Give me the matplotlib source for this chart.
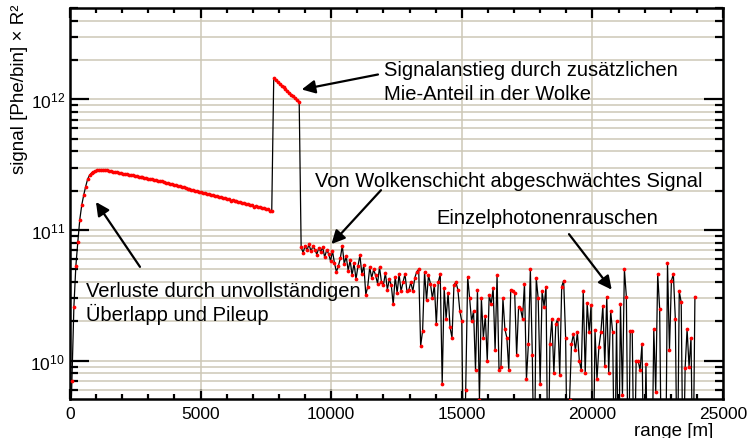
import numpy as np
import matplotlib
matplotlib.use("Agg")
import matplotlib.pyplot as plt
from matplotlib.ticker import MultipleLocator, LogLocator, NullFormatter

plt.rcParams['font.family'] = ['Liberation Sans', 'DejaVu Sans']
plt.rcParams['mathtext.fontset'] = 'custom'
plt.rcParams['mathtext.rm'] = 'Liberation Sans'
plt.rcParams['mathtext.it'] = 'Liberation Sans:italic'
plt.rcParams['mathtext.bf'] = 'Liberation Sans:bold'

# range bins are 75 m wide, signal in units of 1e10 Phe/bin * R^2
bin_width = 75.0

# 0 - 7725 m: overlap rise and clear-air decay
signal_clear = [
    0.2, 0.7, 2.6, 5.3, 8.1, 12.0, 15.5, 18.5, 21.5, 24.5,
    26.3, 27.3, 27.9, 28.3, 28.6, 28.8, 28.9, 28.9, 28.9, 28.7,
    28.4, 28.2, 28.0, 27.8, 27.6, 27.4, 27.2, 27.0, 26.9, 26.7,
    26.5, 26.4, 26.2, 26.0, 25.8, 25.6, 25.5, 25.3, 25.1, 24.9,
    24.8, 24.6, 24.4, 24.3, 24.1, 23.9, 23.8, 23.6, 23.3, 23.1,
    22.9, 22.6, 22.4, 22.2, 22.0, 21.8, 21.6, 21.4, 21.2, 21.0,
    20.8, 20.7, 20.4, 20.2, 20.0, 19.9, 19.7, 19.5, 19.3, 19.2,
    19.0, 18.8, 18.7, 18.6, 18.3, 18.2, 18.0, 17.9, 17.6, 17.6,
    17.3, 17.3, 16.8, 17.0, 16.7, 16.7, 16.3, 16.4, 16.1, 16.1,
    15.7, 15.8, 15.5, 15.5, 15.1, 15.3, 14.9, 15.0, 14.7, 14.7,
    14.4, 14.4, 14.1, 14.1,
]

# 7800 - 8775 m: cloud layer
signal_cloud = [
    144.5, 140.0, 135.8, 131.5, 127.4, 123.6, 119.7, 115.9, 112.4, 108.9,
    105.4, 102.3, 99.1, 96.0,
]

# 8850 m onwards: attenuated signal above the cloud, single-photon noise
signal_noise = [
    7.4, 6.7, 7.6, 7.0, 7.8, 6.9, 7.5, 7.1, 6.5, 7.3,
    6.8, 7.4, 6.2, 7.0, 6.6, 5.8, 6.9, 5.6, 4.8, 5.3,
    6.1, 7.6, 5.5, 6.3, 4.9, 5.9, 4.5, 5.6, 4.2, 5.3,
    6.4, 4.6, 5.4, 3.2, 3.7, 5.2, 4.3, 5.0, 4.5, 3.9,
    5.2, 4.0, 3.8, 4.7, 3.5, 4.2, 3.8, 2.7, 4.4, 3.3,
    4.6, 3.4, 4.0, 4.6, 3.4, 3.5, 4.0, 3.4, 4.3, 4.8,
    5.0, 1.3, 1.7, 4.8, 2.9, 4.5, 3.9, 3.0, 3.8, 1.9,
    4.0, 4.6, 0.67, 3.6, 2.1, 3.3, 1.8, 1.5, 3.8, 4.0,
    3.5, 2.4, 2.0, 0.1, 0.6, 4.4, 3.0, 2.0, 2.4, 0.85,
    3.5, 0.5, 3.0, 1.5, 2.2, 1.0, 3.2, 2.7, 3.6, 1.2,
    4.5, 0.85, 0.9, 3.0, 1.75, 1.5, 0.85, 3.5, 3.4, 3.3,
    1.1, 2.6, 2.5, 2.1, 3.9, 0.72, 1.35, 5.0, 1.1, 0.1,
    4.3, 3.0, 0.67, 3.4, 2.6, 3.7, 0.1, 1.35, 2.1, 0.8,
    1.9, 2.1, 0.78, 3.7, 4.1, 1.5, 0.1, 0.5, 1.35, 1.6,
    1.2, 1.65, 1.0, 0.85, 3.4, 0.8, 2.77, 1.65, 2.67, 0.1,
    1.72, 0.72, 1.28, 1.65, 2.63, 0.92, 3.08, 0.81, 2.4, 1.65,
    0.1, 2.0, 0.1, 2.7, 0.55, 5.0, 3.1, 0.1, 1.7, 1.68,
    0.1, 1.0, 1.0, 0.85, 1.35, 0.1, 0.95, 0.1, 0.1, 0.1,
    1.75, 0.58, 4.6, 2.5, 0.1, 0.1, 0.1, 5.6, 1.2, 4.1,
    4.6, 2.1, 0.1, 3.4, 2.8, 0.1, 0.88, 1.75, 0.9, 1.5,
    0.1, 3.1,
]

signal = np.array(signal_clear + signal_cloud + signal_noise) * 1e10
range_m = np.arange(len(signal)) * bin_width

grid_color = '#cdc8b6'

fig = plt.figure(figsize=(7.5, 4.39), dpi=100)
ax = fig.add_axes([0.0933, 0.0888, 0.8707, 0.8907])

ax.plot(range_m, signal, '-', color='black', lw=0.9,
        marker='o', ms=2.7, mfc='red', mec='red', mew=0, zorder=3)

ax.set_yscale('log')
ax.set_xlim(0, 25000)
ax.set_ylim(5.1e9, 5e12)

ax.xaxis.set_major_locator(MultipleLocator(5000))
ax.xaxis.set_minor_locator(MultipleLocator(1000))
ax.yaxis.set_major_locator(LogLocator(base=10))
ax.yaxis.set_minor_locator(LogLocator(base=10, subs=np.arange(2, 10)))
ax.yaxis.set_minor_formatter(NullFormatter())

# grid: every decade step in y, every 5 km in x
ax.grid(True, which='major', axis='x', color=grid_color, lw=1.1, zorder=0)
ax.grid(True, which='both', axis='y', color=grid_color, lw=1.1, zorder=0)
ax.set_axisbelow(True)

ax.tick_params(which='both', direction='in', top=True, right=True,
               labelsize=12.5, width=1.6, color='black')
ax.tick_params(axis='y', which='major', length=14, pad=3.5)
ax.tick_params(axis='y', which='minor', length=6)
ax.tick_params(axis='x', which='major', length=7, pad=5)
ax.tick_params(axis='x', which='minor', length=3.5)
for sp in ax.spines.values():
    sp.set_linewidth(1.8)

fig.text(0.951, 0.016, 'range [m]', fontsize=13.5, ha='right', va='center')
fig.text(0.026, 0.99, 'signal [Phe/bin] × R²', fontsize=13.5,
         rotation=90, ha='center', va='top')

arrow = dict(arrowstyle='-|>', color='black', lw=1.6,
             mutation_scale=20, shrinkA=0, shrinkB=0)
txt = dict(fontsize=14.5, color='black')

ax.annotate('Signalanstieg durch zusätzlichen\nMie-Anteil in der Wolke',
            xy=(8871, 1.19e12), xytext=(12021, 2.0e12),
            va='top', ha='left', linespacing=1.35, **txt)
ax.annotate('', xy=(8871, 1.19e12), xytext=(11792, 1.55e12),
            arrowprops=arrow)

ax.annotate('Von Wolkenschicht abgeschwächtes Signal',
            xy=(10011, 7.82e10), xytext=(9366, 2.19e11),
            va='baseline', ha='left', **txt)
ax.annotate('', xy=(10011, 7.82e10), xytext=(11907, 2.02e11),
            arrowprops=arrow)

ax.annotate('Einzelphotonenrauschen',
            xy=(20739, 3.5e10), xytext=(14012, 1.13e11),
            va='baseline', ha='left', **txt)
ax.annotate('', xy=(20739, 3.5e10), xytext=(19104, 9.31e10),
            arrowprops=arrow)

ax.annotate('Verluste durch unvollständigen\nÜberlapp und Pileup',
            xy=(995, 1.64e11), xytext=(612, 4.08e10),
            va='top', ha='left', linespacing=1.15, **txt)
ax.annotate('', xy=(995, 1.64e11), xytext=(2680, 5.23e10),
            arrowprops=arrow)

fig.savefig('out.png', dpi=100)
